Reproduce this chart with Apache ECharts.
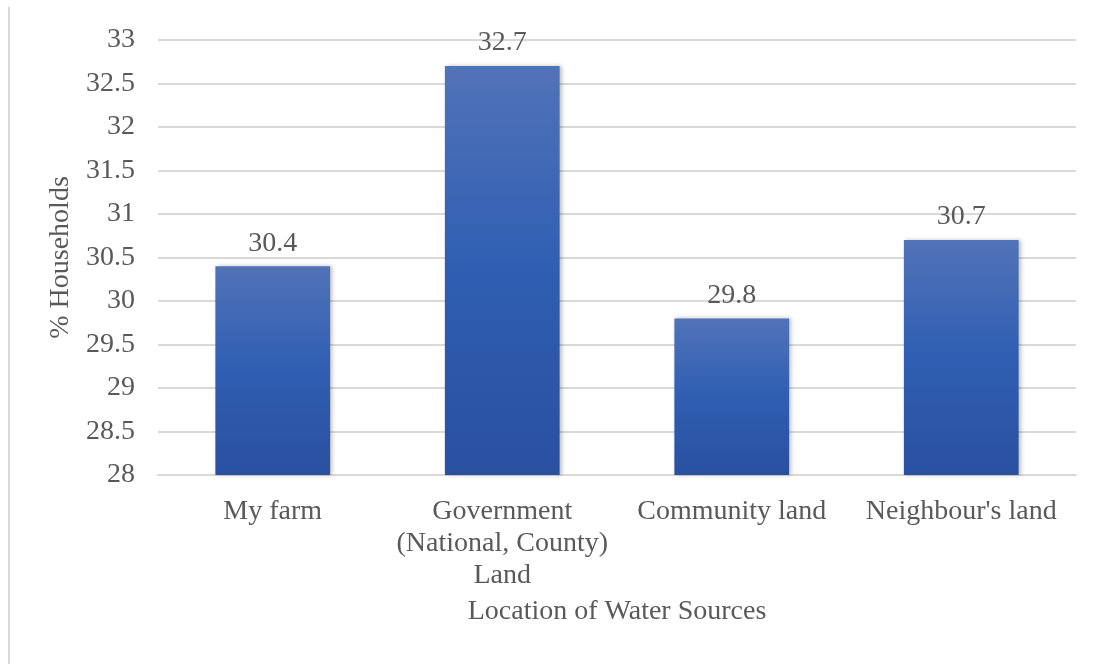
<!DOCTYPE html>
<html>
<head>
<meta charset="utf-8">
<script src="https://cdn.jsdelivr.net/npm/echarts@6/dist/echarts.min.js"></script>
<style>
  html, body { margin: 0; padding: 0; background: #fff; }
  #chart { width: 1101px; height: 664px; }
</style>
</head>
<body>
<div id="chart"></div>
<script>
// Share of households by location of their water source
const categories = ['My farm', 'Government\n(National, County)\nLand', 'Community land', "Neighbour's land"];
const households = [30.4, 32.7, 29.8, 30.7];
const yMin = 28;
const yMax = 33;
const yStep = 0.5;

const font = '"Liberation Serif", "Times New Roman", serif';
const textColor = '#595959';
const fontSize = 28;

const chart = echarts.init(document.getElementById('chart'), null, { renderer: 'canvas' });

chart.setOption({
  backgroundColor: '#ffffff',
  animation: false,
  textStyle: { fontFamily: font },
  graphic: [{
    type: 'line',
    shape: { x1: 9, y1: 7, x2: 9, y2: 664 },
    style: { stroke: '#d9d9d9', lineWidth: 2 }
  }],
  grid: { left: 158, right: 25, top: 40, bottom: 189 },
  xAxis: {
    type: 'category',
    data: categories,
    name: 'Location of Water Sources',
    nameLocation: 'middle',
    nameGap: 123,
    nameTextStyle: { fontFamily: font, fontSize: fontSize, color: textColor },
    axisLine: { show: true, lineStyle: { color: '#d9d9d9', width: 2 } },
    axisTick: { show: false },
    axisLabel: {
      fontFamily: font, fontSize: fontSize, color: textColor,
      margin: 21, lineHeight: 32, interval: 0
    }
  },
  yAxis: {
    type: 'value',
    min: yMin,
    max: yMax,
    interval: yStep,
    name: '% Households',
    nameLocation: 'middle',
    nameGap: 79,
    nameRotate: 90,
    nameTextStyle: { fontFamily: font, fontSize: fontSize, color: textColor },
    axisLine: { show: false },
    axisTick: { show: false },
    axisLabel: {
      fontFamily: font, fontSize: fontSize, color: textColor, margin: 23,
      formatter: v => String(Math.round(v * 10) / 10)
    },
    splitLine: { lineStyle: { color: '#d9d9d9', width: 2 } }
  },
  series: [{
    type: 'bar',
    data: households,
    barWidth: '50%',
    itemStyle: {
      color: new echarts.graphic.LinearGradient(0, 0, 0, 1, [
        { offset: 0, color: '#5173b8' },
        { offset: 0.5, color: '#2f5eb2' },
        { offset: 1, color: '#2a50a0' }
      ]),
      shadowColor: 'rgba(0,0,0,0.25)',
      shadowBlur: 4,
      shadowOffsetX: 2,
      shadowOffsetY: 0
    },
    label: {
      show: true,
      position: 'top',
      distance: 9,
      fontFamily: font,
      fontSize: fontSize,
      color: textColor,
      formatter: p => p.value.toFixed(1)
    }
  }]
});
</script>
</body>
</html>
